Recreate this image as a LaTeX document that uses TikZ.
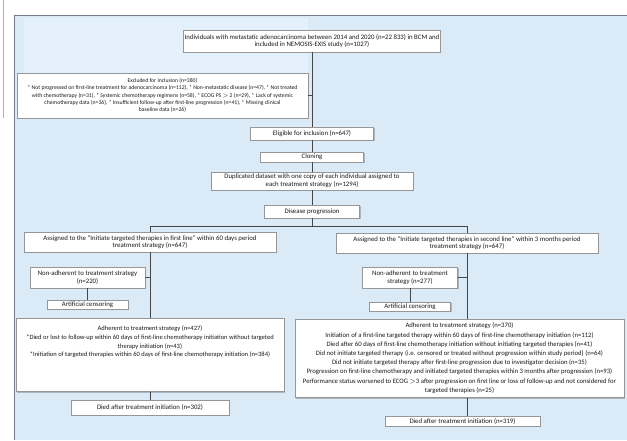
\documentclass[tikz,border=0pt]{standalone}
\usepackage{fontspec}
\setmainfont{Carlito}
\usetikzlibrary{shadows}
\definecolor{panelblue}{RGB}{219,234,247}
\definecolor{panelblueb}{RGB}{228,240,251}
\definecolor{panelline}{RGB}{115,125,135}
\definecolor{boxline}{RGB}{150,150,150}
\definecolor{conn}{RGB}{70,70,70}
\tikzset{
  fb/.style={draw=boxline, line width=0.6pt, fill=white, align=center, inner sep=1pt,
    font=\fontsize{6.8}{7.6}\selectfont, text=black!90,
    drop shadow={shadow xshift=1pt, shadow yshift=-1.2pt, fill=black, opacity=0.22}},
  link/.style={draw=conn, line width=1pt},
}
\begin{document}
\begin{tikzpicture}[x=1pt,y=-1pt]
\useasboundingbox (0,0) rectangle (627,440);
\fill[white] (0,0) rectangle (627,440);
\draw[gray!60, line width=0.8pt] (3,0) -- (3,118);
\fill[panelblue] (14,15) rectangle (627,440);
\fill[panelblueb] (24,18) rectangle (308,75);
\draw[panelline, line width=1pt] (627,15) -- (14,15) -- (14,440);

% trunk nodes
\node[fb, minimum width=255pt, minimum height=22pt] (top) at (312,41)
  {Individuals with metastatic adenocarcinoma between 2014 and 2020 (n=22 833) in BCM and\\
   included in NEMOSIS-EXIS study (n=1027)};
\node[fb, minimum width=291pt, minimum height=45pt, font=\fontsize{5.7}{7.2}\selectfont] (excl) at (162.5,95.5)
  {Excluded for inclusion (n=380)\\
   * Not progressed on first-line treatment for adenocarcinoma (n=112), * Non-metastatic disease (n=47), * Not treated\\
   with chemotherapy (n=31), * Systemic chemotherapy regimens (n=58), * ECOG PS ${>}$ 2 (n=29), * Lack of systemic\\
   chemotherapy data (n=36), * Insufficient follow-up after first-line progression (n=41), * Missing clinical\\
   baseline data (n=26)};
\node[fb, minimum width=123pt, minimum height=13pt] (elig) at (312,133.5) {Eligible for inclusion (n=647)};
\node[fb, minimum width=103pt, minimum height=10pt] (clone) at (312,157) {Cloning};
\node[fb, minimum width=202pt, minimum height=18pt] (dup) at (312,181)
  {Duplicated dataset with one copy of each individual assigned to\\ each treatment strategy (n=1294)};
\node[fb, minimum width=95pt, minimum height=13pt] (prog) at (312,211.5) {Disease progression};

\coordinate (split) at (312,226);
\coordinate (sl) at (150,226);
\coordinate (sr) at (467,226);

% left branch
\node[fb, minimum width=252pt, minimum height=20pt] (lass) at (150,242)
  {Assigned to the ``Initiate targeted therapies in first line'' within 60 days period\\ treatment strategy (n=647)};
\node[fb, minimum width=115pt, minimum height=21pt] (lna) at (87.5,277.5)
  {Non-adherent to treatment strategy\\ (n=220)};
\node[fb, minimum width=81pt, minimum height=9pt] (lwd) at (87.5,304.5) {Artificial censoring};
\node[fb, minimum width=268pt, minimum height=73pt, anchor=north, font=\fontsize{6.5}{8.6}\selectfont] (ladh) at (150,318)
  {Adherent to treatment strategy (n=427)\\
   *Died or lost to follow-up within 60 days of first-line chemotherapy initiation without targeted\\
   therapy initiation (n=43)\\
   *Initiation of targeted therapies within 60 days of first-line chemotherapy initiation (n=384)\\[18pt]};
\node[fb, minimum width=158pt, minimum height=15pt] (ldied) at (150,407.5) {Died after treatment initiation (n=302)};

% right branch
\node[fb, minimum width=262pt, minimum height=20pt] (rass) at (467,243)
  {Assigned to the ``Initiate targeted therapies in second line'' within 3 months period\\ treatment strategy (n=647)};
\node[fb, minimum width=95pt, minimum height=21pt] (rna) at (410,277.5)
  {Non-adherent to treatment\\ strategy (n=277)};
\node[fb, minimum width=81pt, minimum height=9pt] (rwd) at (410,306.5) {Artificial censoring};
\node[fb, minimum width=329pt, minimum height=78pt, anchor=north, font=\fontsize{6.7}{9.2}\selectfont] (radh) at (459.5,319)
  {Adherent to treatment strategy (n=370)\\
   Initiation of a first-line targeted therapy within 60 days of first-line chemotherapy initiation (n=112)\\
   Died after 60 days of first-line chemotherapy initiation without initiating targeted therapies (n=41)\\
   Did not initiate targeted therapy (i.e. censored or treated without progression within study period) (n=64)\\
   Did not initiate targeted therapy after first-line progression due to investigator decision (n=35)\\
   Progression on first-line chemotherapy and initiated targeted therapies within 3 months after progression (n=93)\\
   Performance status worsened to ECOG ${>}$3 after progression on first line or loss of follow-up and not considered for\\
   targeted therapies (n=25)};
\node[fb, minimum width=155pt, minimum height=10pt] (rdied) at (462.5,421) {Died after treatment initiation (n=319)};

% connectors
\draw[link] (top.south) -- (elig.north);
\draw[link] (excl.east) -- (excl.east -| top.south);
\draw[link] (elig.south) -- (clone.north);
\draw[link] (clone.south) -- (dup.north);
\draw[link] (dup.south) -- (prog.north);
\draw[link] (prog.south) -- (split);
\draw[link] (sl) -- (sr);
\draw[link] (sl) -- (lass.north);
\draw[link] (lass.south) -- (ladh.north -| lass.south);
\draw[link] (lna.east) -- (lna.east -| lass.south);
\draw[link] (lna.south) -- (lwd.north);
\draw[link] (ladh.south) -- (ldied.north);
\draw[link] (sr) -- (rass.north);
\draw[link] (rass.south) -- (radh.north -| rass.south);
\draw[link] (rna.east) -- (rna.east -| rass.south);
\draw[link] (rna.south) -- (rwd.north);
\draw[link] (radh.south -| rass.south) -- (rdied.north -| rass.south);
\end{tikzpicture}
\end{document}
